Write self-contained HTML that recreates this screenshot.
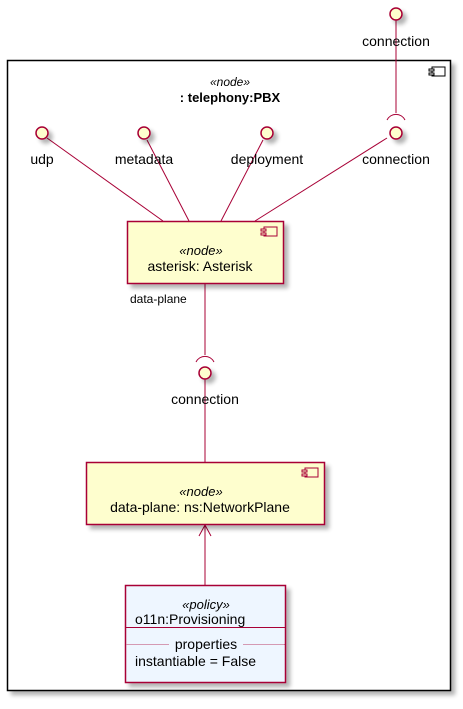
<!DOCTYPE html>
<html><head><meta charset="utf-8"><style>
html,body{margin:0;padding:0;background:#fff;}
svg text{font-family:"Liberation Sans",sans-serif;fill:#000;}
</style></head><body>
<svg width="463" height="704" viewBox="0 0 463 704" xmlns="http://www.w3.org/2000/svg">
<defs><filter id="sh" x="-20%" y="-20%" width="150%" height="150%"><feGaussianBlur in="SourceAlpha" stdDeviation="2"/><feOffset dx="4" dy="4"/><feComponentTransfer><feFuncA type="linear" slope="0.3"/></feComponentTransfer><feMerge><feMergeNode/><feMergeNode in="SourceGraphic"/></feMerge></filter></defs>
<!-- outer -->
<rect x="7.5" y="60.5" width="443" height="630" fill="#fff" stroke="#000" stroke-width="1.5" filter="url(#sh)"/>
<rect x="432" y="67" width="13" height="9" fill="#fff" stroke="#000"/>
<rect x="429" y="69" width="5" height="2" fill="#fff" stroke="#000"/>
<rect x="429" y="73" width="5" height="2" fill="#fff" stroke="#000"/>
<text x="230" y="86" font-size="12" font-style="italic" text-anchor="middle">«node»</text>
<text x="230" y="102" font-size="13" font-weight="bold" text-anchor="middle">: telephony:PBX</text>
<!-- lines -->
<g stroke="#A80036" stroke-width="1" fill="none">
<line x1="396" y1="19" x2="396" y2="113"/>
<path d="M387,120 A10,10 0 0 1 405,120"/>
<line x1="47" y1="138" x2="163" y2="221"/>
<line x1="147" y1="140" x2="189" y2="221"/>
<line x1="263" y1="140" x2="221" y2="221"/>
<line x1="387" y1="138" x2="255" y2="221"/>
<line x1="205" y1="283" x2="205" y2="355"/>
<path d="M196,362 A10,10 0 0 1 214,362"/>
<line x1="205" y1="378" x2="205" y2="462"/>
<line x1="205" y1="524" x2="205" y2="585"/>
<path d="M199,536 L205,525 L211,536 M205,525 L205,535"/>
</g>
<!-- circles -->
<g fill="#FEFECE" stroke="#A80036" stroke-width="1.5" filter="url(#sh)">
<circle cx="396" cy="14" r="6"/>
<circle cx="42" cy="133" r="6"/>
<circle cx="144" cy="133" r="6"/>
<circle cx="267" cy="133" r="6"/>
<circle cx="396" cy="133" r="6"/>
<circle cx="205" cy="373" r="6"/>
</g>
<g font-size="14" text-anchor="middle">
<text x="396" y="46">connection</text>
<text x="42" y="164">udp</text>
<text x="144" y="164">metadata</text>
<text x="267" y="164">deployment</text>
<text x="396" y="164">connection</text>
<text x="205" y="404">connection</text>
</g>
<text x="130" y="303" font-size="12">data-plane</text>
<!-- asterisk -->
<rect x="127.5" y="221.5" width="156" height="62" fill="#FEFECE" stroke="#A80036" stroke-width="1.5" filter="url(#sh)"/>
<rect x="264" y="227" width="13" height="9" fill="#FEFECE" stroke="#A80036"/>
<rect x="261" y="229" width="5" height="2" fill="#FEFECE" stroke="#A80036"/>
<rect x="261" y="233" width="5" height="2" fill="#FEFECE" stroke="#A80036"/>
<text x="201" y="255" font-size="13" font-style="italic" text-anchor="middle">«node»</text>
<text x="200" y="271" font-size="14" text-anchor="middle">asterisk: Asterisk</text>
<!-- networkplane -->
<rect x="86.5" y="462.5" width="238" height="62" fill="#FEFECE" stroke="#A80036" stroke-width="1.5" filter="url(#sh)"/>
<rect x="305" y="468" width="13" height="9" fill="#FEFECE" stroke="#A80036"/>
<rect x="302" y="470" width="5" height="2" fill="#FEFECE" stroke="#A80036"/>
<rect x="302" y="474" width="5" height="2" fill="#FEFECE" stroke="#A80036"/>
<text x="201" y="496" font-size="13" font-style="italic" text-anchor="middle">«node»</text>
<text x="200" y="512" font-size="14" text-anchor="middle">data-plane: ns:NetworkPlane</text>
<!-- policy -->
<rect x="125.5" y="585.5" width="160" height="97" fill="#EEF6FF" stroke="#A80036" stroke-width="1.5" filter="url(#sh)"/>
<line x1="125.5" y1="627.5" x2="285.5" y2="627.5" stroke="#A80036"/>
<line x1="125.5" y1="644.5" x2="285.5" y2="644.5" stroke="#A80036" stroke-dasharray="1,1" stroke-width="0.8"/>
<text x="206" y="609" font-size="13" font-style="italic" text-anchor="middle">«policy»</text>
<text x="135" y="624" font-size="14">o11n:Provisioning</text>
<rect x="169" y="637" width="74" height="12" fill="#EEF6FF"/>
<text x="206" y="649" font-size="14" text-anchor="middle">properties</text>
<text x="135" y="666" font-size="14">instantiable = False</text>
</svg>
</body></html>
